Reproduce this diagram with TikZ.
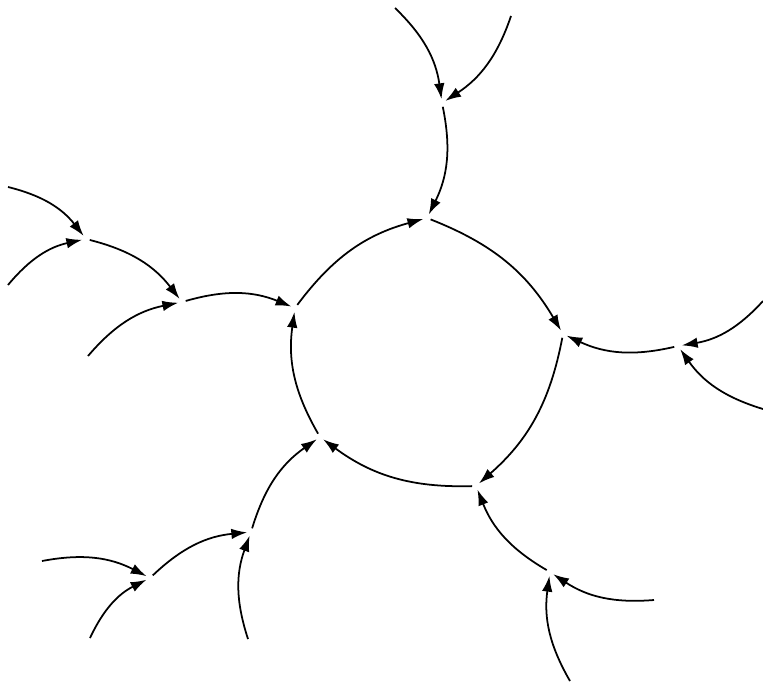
\documentclass[tikz,border=0pt]{standalone}
\usepackage{tikz}
\usetikzlibrary{arrows.meta}
\tikzset{
  mapsto/.style={-{Latex[length=9pt, width=6pt]}, line width=1pt, bend left=19},
  vertex/.style={circle, inner sep=0pt, minimum size=4pt}
}

\begin{document}
\begin{tikzpicture}[x=0.02cm, y=-0.02cm]
  \useasboundingbox (0,0) rectangle (763,683);
  % cycle
  \node[vertex] (cyc1) at (427,218) {};
  \node[vertex] (cyc2) at (563,334) {};
  \node[vertex] (cyc3) at (476,486) {};
  \node[vertex] (cyc4) at (320,437) {};
  \node[vertex] (cyc5) at (295,308) {};
  % inner tree nodes
  \node[vertex] (top) at (442,103) {};
  \node[vertex] (east) at (678,346) {};
  \node[vertex] (south) at (550,572) {};
  \node[vertex] (sw1) at (251,532) {};
  \node[vertex] (sw2) at (150,578) {};
  \node[vertex] (west1) at (182,302) {};
  \node[vertex] (west2) at (86,239) {};
  % leaves
  \coordinate (lf1) at (395,8);
  \coordinate (lf2) at (511,16);
  \coordinate (lf3) at (763,301);
  \coordinate (lf4) at (763,409);
  \coordinate (lf5) at (654,600);
  \coordinate (lf6) at (570,681);
  \coordinate (lf7) at (248,639);
  \coordinate (lf8) at (42,561);
  \coordinate (lf9) at (90,638);
  \coordinate (lf10) at (88,356);
  \coordinate (lf11) at (8,187);
  \coordinate (lf12) at (8,285);

  \draw[mapsto] (cyc1) to (cyc2);
  \draw[mapsto] (cyc2) to (cyc3);
  \draw[mapsto] (cyc3) to (cyc4);
  \draw[mapsto] (cyc4) to (cyc5);
  \draw[mapsto] (cyc5) to (cyc1);

  \draw[mapsto] (top) to (cyc1);
  \draw[mapsto] (lf1) to (top);
  \draw[mapsto] (lf2) to (top);

  \draw[mapsto] (east) to (cyc2);
  \draw[mapsto] (lf3) to (east);
  \draw[mapsto] (lf4) to (east);

  \draw[mapsto] (south) to (cyc3);
  \draw[mapsto] (lf5) to (south);
  \draw[mapsto] (lf6) to (south);

  \draw[mapsto] (sw1) to (cyc4);
  \draw[mapsto] (lf7) to (sw1);
  \draw[mapsto] (sw2) to (sw1);
  \draw[mapsto] (lf8) to (sw2);
  \draw[mapsto] (lf9) to (sw2);

  \draw[mapsto] (west1) to (cyc5);
  \draw[mapsto] (lf10) to (west1);
  \draw[mapsto] (west2) to (west1);
  \draw[mapsto] (lf11) to (west2);
  \draw[mapsto] (lf12) to (west2);
\end{tikzpicture}
\end{document}
